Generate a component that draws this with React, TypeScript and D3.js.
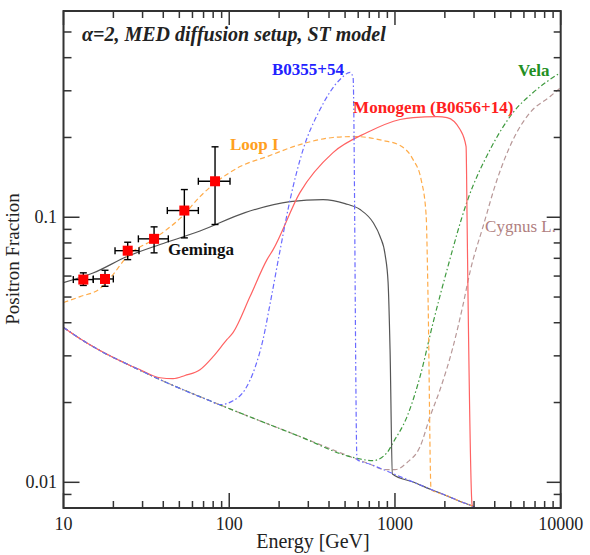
import React from 'react';
import * as d3 from 'd3';

type Pt = [number, number];

// Background (secondary) positron fraction, energy [GeV] vs fraction
const background: Pt[] = [
  [10, 0.0384], [12.6, 0.0348], [16.6, 0.0314], [25.2, 0.0276], [38.2, 0.0244],
  [76.6, 0.0203], [267, 0.01488], [708, 0.0117], [974, 0.01078], [1300, 0.01],
  [1651, 0.00939], [2000, 0.00896], [2500, 0.00845], [2960, 0.0081], [3300, 0.0077],
];

const gemingaPts: Pt[] = [
  [10, 0.0567], [15.07, 0.0616], [24.2, 0.0711], [38.2, 0.0789], [66.6, 0.0887],
  [124.6, 0.1041], [233, 0.1146], [368, 0.1166], [500, 0.1126], [616, 0.1069],
  [738, 0.0955], [813, 0.0846], [872, 0.0723], [909, 0.0567], [934, 0.0317], [965, 0.01075],
];

const loopIPts: Pt[] = [
  [10, 0.0477], [12.6, 0.0502], [16.6, 0.0538], [19.9, 0.0608], [24.2, 0.0711],
  [34.7, 0.0824], [52.6, 0.1015], [66.6, 0.1197], [84.4, 0.1364], [116.2, 0.1553],
  [169, 0.1694], [267, 0.188], [423, 0.1999], [574, 0.2016], [848, 0.1947],
  [1074, 0.1865], [1286, 0.165], [1438, 0.1388], [1541, 0.1024], [1584, 0.0489], [1651, 0.00939],
];

const b0355Pts: Pt[] = [
  [88, 0.01964], [105.4, 0.0203], [124.6, 0.0224], [143.1, 0.0271], [160, 0.0346],
  [176, 0.0468], [203, 0.0755], [233, 0.1166], [279, 0.18], [353, 0.2549],
  [466, 0.331], [536, 0.352], [559, 0.3367], [590, 0.01219],
];

const monogemPts: Pt[] = [
  [29, 0.0266], [38.2, 0.0248], [45.8, 0.0246], [54.1, 0.0253], [66.6, 0.0266],
  [79.9, 0.0298], [97, 0.0346], [105.4, 0.0367], [133.5, 0.0502], [169, 0.0692],
  [184, 0.0755], [267, 0.1239], [423, 0.1754], [679, 0.2088], [1074, 0.2337],
  [1286, 0.2378], [1796, 0.2399], [2063, 0.2378], [2472, 0.2143], [2686, 0.1848],
  [2723, 0.0994], [2761, 0.0489], [2919, 0.00824],
];

const velaPts: Pt[] = [
  [536, 0.0125], [738, 0.01208], [896, 0.01294], [974, 0.01412], [1183, 0.0177],
  [1418, 0.0251], [1698, 0.04], [2063, 0.0635], [2723, 0.1146], [3750, 0.18],
  [5161, 0.2484], [6815, 0.2955], [10000, 0.352],
];

const cygnusPts: Pt[] = [
  [872, 0.01116], [1001, 0.01116], [1183, 0.01187], [1418, 0.01364],
  [1628, 0.0177], [1872, 0.0224], [2242, 0.0325], [2576, 0.0468], [2839, 0.0624],
  [3401, 0.0923], [4133, 0.1388], [5161, 0.1964], [6537, 0.2484], [8630, 0.2854], [10000, 0.3086],
];

// Measured positron fraction: energy, lo, hi, value, lo, hi
const dataE = [13.17, 17.8, 24.4, 35.2, 53.6, 82.1];
const dataELo = [11.46, 15.13, 20.46, 28.3, 42.3, 65.1];
const dataEHi = [15.13, 19.98, 28.55, 42.9, 65.1, 101.1];
const dataV = [0.0582, 0.0585, 0.0748, 0.0829, 0.106, 0.1367];
const dataVLo = [0.0553, 0.0549, 0.0692, 0.0734, 0.0836, 0.0939];
const dataVHi = [0.0617, 0.0631, 0.0805, 0.092, 0.1272, 0.1844];

const xMajor = [10, 100, 1000, 10000];
const yMajor = [0.01, 0.1];
const yTickLabels = ['0.01', '0.1'];

const before = (e: number) => background.filter((p) => p[0] < e);
const after = (e: number) => background.filter((p) => p[0] > e);

const curves = [
  { name: 'Cygnus L.', pts: [...before(710), ...cygnusPts], color: '#b89898', dash: '5,3' },
  { name: 'Vela', pts: [...before(530), ...velaPts], color: '#3f9a3f', dash: '5,2.5,1.5,2.5' },
  { name: 'Geminga', pts: [...gemingaPts, ...after(980)], color: '#555555', dash: null },
  { name: 'Loop I', pts: [...loopIPts, ...after(1651)], color: '#ffac4a', dash: '5,3' },
  { name: 'Monogem', pts: [...before(29), ...monogemPts, ...after(2919)], color: '#ff6262', dash: null },
  { name: 'B0355+54', pts: [...before(88), ...b0355Pts, ...after(590)], color: '#6a6aff', dash: '5,2.5,1.5,2.5' },
];

const labels = [
  { text: 'B0355+54', e: 181, v: 0.3455, color: '#2222ff', bold: true },
  { text: 'Vela', e: 5534, v: 0.34, color: '#238f23', bold: true },
  { text: 'Monogem (B0656+14)', e: 559, v: 0.2484, color: '#ff2020', bold: true },
  { text: 'Loop I', e: 101, v: 0.18, color: '#ffa020', bold: true },
  { text: 'Geminga', e: 42.7, v: 0.0723, color: '#111111', bold: true },
  { text: 'Cygnus L.', e: 3498, v: 0.0876, color: '#b08080', bold: false },
];

const W = 590;
const H = 555;
const L = 63.5, R = 560.7, T = 11, B = 508;
const serif = '"Liberation Serif", "DejaVu Serif", serif';

const App: React.FC = () => {
  const x = d3.scaleLog().domain([10, 10000]).range([L, R]);
  const y = d3.scaleLog().domain([0.008, 0.6]).range([B, T]);
  const line = d3
    .line<Pt>()
    .x((d) => x(d[0]))
    .y((d) => y(d[1]))
    .curve(d3.curveMonotoneX);

  const xMinor: number[] = [];
  [10, 100, 1000].forEach((d) => {
    for (let k = 2; k <= 9; k++) xMinor.push(d * k);
  });
  const yMinor: number[] = [0.008, 0.009];
  [0.01, 0.1].forEach((d) => {
    for (let k = 2; k <= 9; k++) if (d * k <= 0.6) yMinor.push(d * k);
  });

  return (
    <svg width={W} height={H} style={{ position: 'absolute', left: 0, top: 0, background: '#fff' }}>
      <defs>
        <clipPath id="plot">
          <rect x={L} y={T} width={R - L} height={B - T} />
        </clipPath>
      </defs>

      <g clipPath="url(#plot)">
        {curves.map((c) => (
          <path
            key={c.name}
            d={line(c.pts) || ''}
            fill="none"
            stroke={c.color}
            strokeWidth={1.2}
            strokeDasharray={c.dash || undefined}
          />
        ))}
      </g>

      {/* data points */}
      <g stroke="#000" strokeWidth={1.4}>
        {dataE.map((e, i) => {
          const cx = x(e);
          const cy = y(dataV[i]);
          const x0 = x(dataELo[i]);
          const x1 = x(dataEHi[i]);
          const y0 = y(dataVLo[i]);
          const y1 = y(dataVHi[i]);
          return (
            <g key={i}>
              <line x1={x0} x2={x1} y1={cy} y2={cy} />
              <line x1={x0} x2={x0} y1={cy - 3.5} y2={cy + 3.5} />
              <line x1={x1} x2={x1} y1={cy - 3.5} y2={cy + 3.5} />
              <line x1={cx} x2={cx} y1={y0} y2={y1} />
              <line x1={cx - 3.5} x2={cx + 3.5} y1={y0} y2={y0} />
              <line x1={cx - 3.5} x2={cx + 3.5} y1={y1} y2={y1} />
              <rect x={cx - 5} y={cy - 5} width={10} height={10} fill="#ff0000" stroke="none" />
            </g>
          );
        })}
      </g>

      {/* frame and ticks */}
      <g stroke="#333" strokeWidth={1.5}>
        {xMajor.map((d) => (
          <g key={'xM' + d}>
            <line x1={x(d)} x2={x(d)} y1={B} y2={B - 15} />
            <line x1={x(d)} x2={x(d)} y1={T} y2={T + 14} />
          </g>
        ))}
        {xMinor.map((d) => (
          <g key={'xm' + d}>
            <line x1={x(d)} x2={x(d)} y1={B} y2={B - 7} />
            <line x1={x(d)} x2={x(d)} y1={T} y2={T + 7} />
          </g>
        ))}
        {yMajor.map((d) => (
          <g key={'yM' + d}>
            <line x1={L} x2={L + 16} y1={y(d)} y2={y(d)} />
            <line x1={R} x2={R - 14} y1={y(d)} y2={y(d)} />
          </g>
        ))}
        {yMinor.map((d) => (
          <g key={'ym' + d}>
            <line x1={L} x2={L + 8} y1={y(d)} y2={y(d)} />
            <line x1={R} x2={R - 7} y1={y(d)} y2={y(d)} />
          </g>
        ))}
        <rect x={L} y={T} width={R - L} height={B - T} fill="none" strokeWidth={2} />
      </g>

      {/* tick labels */}
      <g fontFamily={serif} fontSize={18} fill="#222">
        {xMajor.map((d) => (
          <text key={'xl' + d} x={x(d)} y={530} textAnchor="middle">
            {d}
          </text>
        ))}
        {yMajor.map((d, i) => (
          <text key={'yl' + d} x={57} y={y(d) + 6} textAnchor="end">
            {yTickLabels[i]}
          </text>
        ))}
      </g>

      <text x={313} y={548} textAnchor="middle" fontFamily={serif} fontSize={20} fill="#222">
        Energy [GeV]
      </text>
      <text
        transform={`translate(19,259) rotate(-90)`}
        textAnchor="middle"
        fontFamily={serif}
        fontSize={19}
        fill="#222"
      >
        Positron Fraction
      </text>

      <text x={82} y={41} fontFamily={serif} fontSize={20} fontStyle="italic" fontWeight="bold" fill="#222">
        α=2, MED diffusion setup, ST model
      </text>

      {labels.map((l) => (
        <text
          key={l.text}
          x={x(l.e)}
          y={y(l.v)}
          fontFamily={serif}
          fontSize={17}
          fontWeight={l.bold ? 'bold' : 'normal'}
          fill={l.color}
        >
          {l.text}
        </text>
      ))}
    </svg>
  );
};

export default App;
